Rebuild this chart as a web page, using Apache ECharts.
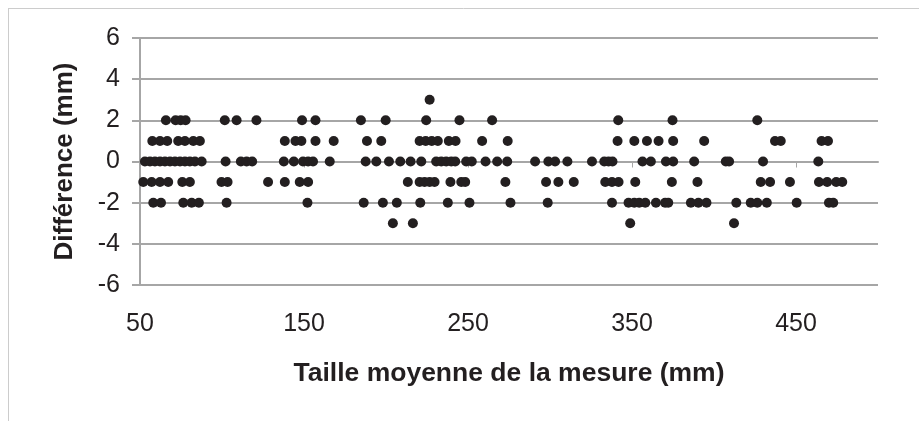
<!DOCTYPE html>
<html>
<head>
<meta charset="utf-8">
<script src="https://cdn.jsdelivr.net/npm/echarts@6/dist/echarts.min.js"></script>
<style>
  html, body { margin: 0; padding: 0; background: #ffffff; }
  #chart { width: 919px; height: 421px; }
</style>
</head>
<body>
<div id="chart"></div>
<script>
// Mean size of the measurement (mm) for each difference level (mm)
const diffLevels = [3, 2, 1, 0, -1, -2, -3];
const sizesDiffPlus3 = [226.6];
const sizesDiffPlus2 = [65.8, 71.7, 74.8, 77.8, 101.7, 108.9, 121.0, 148.8, 157.0, 184.7, 199.8, 224.5, 244.8, 264.7, 341.6, 374.7, 426.4];
const sizesDiffPlus1 = [57.5, 62.2, 66.6, 73.3, 77.4, 82.5, 86.5, 138.3, 144.8, 148.4, 157.0, 168.1, 188.4, 197.1, 220.5, 224.2, 227.9, 231.6, 238.3, 242.4, 258.6, 274.2, 341.2, 351.4, 359.1, 366.2, 375.1, 394.0, 437.2, 440.7, 465.6, 469.5];
const sizesDiffZero = [53.0, 56.1, 59.1, 62.2, 65.2, 68.3, 71.3, 74.4, 77.4, 80.4, 83.5, 87.6, 102.2, 111.5, 115.0, 118.4, 137.7, 143.8, 149.4, 152.5, 155.5, 165.7, 187.6, 194.1, 201.8, 208.7, 215.0, 221.5, 230.6, 233.7, 236.7, 239.8, 242.2, 248.9, 252.3, 260.7, 267.8, 273.9, 290.9, 299.0, 303.1, 310.6, 325.6, 333.1, 335.7, 338.1, 356.4, 361.5, 370.7, 375.1, 387.9, 407.2, 409.2, 429.9, 463.6];
const sizesDiffMinus1 = [52.0, 57.1, 62.2, 67.2, 75.8, 80.4, 99.7, 103.4, 128.1, 138.3, 147.4, 152.5, 213.3, 220.5, 223.5, 226.6, 229.6, 239.3, 245.9, 248.3, 272.8, 297.6, 305.1, 314.5, 333.7, 337.8, 341.8, 352.0, 374.3, 389.9, 428.5, 434.2, 446.3, 464.0, 469.0, 474.5, 478.2];
const sizesDiffMinus2 = [58.1, 62.8, 76.4, 81.5, 85.9, 102.8, 152.1, 186.4, 198.1, 206.6, 220.9, 237.7, 250.9, 275.9, 298.6, 337.8, 347.9, 351.4, 354.4, 358.1, 364.6, 370.2, 372.1, 385.9, 390.5, 395.4, 413.6, 422.4, 426.4, 432.2, 450.4, 470.1, 472.7];
const sizesDiffMinus3 = [204.2, 216.4, 348.9, 412.2];

// Axis ticks
const xTickLabels = [50, 150, 250, 350, 450];
const xZeroLineTicks = [150, 250, 350, 450];
const yTickLabels = [-6, -4, -2, 0, 2, 4, 6];

const sizesByLevel = [sizesDiffPlus3, sizesDiffPlus2, sizesDiffPlus1, sizesDiffZero,
                      sizesDiffMinus1, sizesDiffMinus2, sizesDiffMinus3];
const points = [];
diffLevels.forEach((level, i) => {
  sizesByLevel[i].forEach(size => points.push([size, level]));
});

const gridGrey = '#a6a6a6';
const inkColor = '#231f20';
const sansFont = '"Liberation Sans", Arial, sans-serif';

const chart = echarts.init(document.getElementById('chart'), null, { renderer: 'canvas' });
chart.setOption({
  backgroundColor: '#ffffff',
  animation: false,
  grid: {
    left: 140, right: 41, top: 38, bottom: 136,
    outerBoundsMode: 'none'
  },
  xAxis: [
    {
      type: 'value',
      position: 'bottom',
      min: 50, max: 500, interval: 100,
      name: 'Taille moyenne de la mesure (mm)',
      nameLocation: 'middle',
      nameGap: 75,
      nameMoveOverlap: false,
      nameTextStyle: { fontFamily: sansFont, fontWeight: 'bold', fontSize: 26.5, color: inkColor },
      axisLine: { show: false, onZero: false },
      axisTick: { show: false },
      splitLine: { show: false },
      axisLabel: {
        customValues: xTickLabels,
        margin: 27,
        fontFamily: sansFont, fontSize: 25, color: inkColor
      }
    },
    {
      type: 'value',
      position: 'bottom',
      min: 50, max: 500, interval: 100,
      axisLine: { show: true, onZero: true, lineStyle: { color: gridGrey, width: 2 } },
      axisTick: { show: true, inside: false, length: 6, customValues: xZeroLineTicks,
                  lineStyle: { color: gridGrey, width: 1 } },
      axisLabel: { show: false },
      splitLine: { show: false }
    }
  ],
  yAxis: {
    type: 'value',
    min: -6, max: 6, interval: 2,
    name: 'Différence (mm)',
    nameLocation: 'middle',
    nameGap: 62,
    nameMoveOverlap: false,
    nameTextStyle: { fontFamily: sansFont, fontWeight: 'bold', fontSize: 26, color: inkColor },
    axisLine: { show: true, lineStyle: { color: gridGrey, width: 2 } },
    axisTick: { show: true, inside: false, length: 8, lineStyle: { color: gridGrey, width: 2 } },
    splitLine: { show: true, lineStyle: { color: gridGrey, width: 2 } },
    axisLabel: {
      customValues: yTickLabels,
      margin: 20,
      fontFamily: sansFont, fontSize: 25, color: inkColor
    }
  },
  series: [{
    type: 'scatter',
    xAxisIndex: 0,
    data: points,
    symbol: 'circle',
    symbolSize: 10,
    itemStyle: { color: inkColor, opacity: 1 }
  }],
  graphic: [
    { type: 'line', shape: { x1: 8, y1: 8.5, x2: 919, y2: 8.5 }, style: { stroke: '#cccccc', lineWidth: 1 }, silent: true },
    { type: 'line', shape: { x1: 8.5, y1: 8, x2: 8.5, y2: 421 }, style: { stroke: '#cccccc', lineWidth: 1 }, silent: true }
  ]
});
</script>
</body>
</html>
